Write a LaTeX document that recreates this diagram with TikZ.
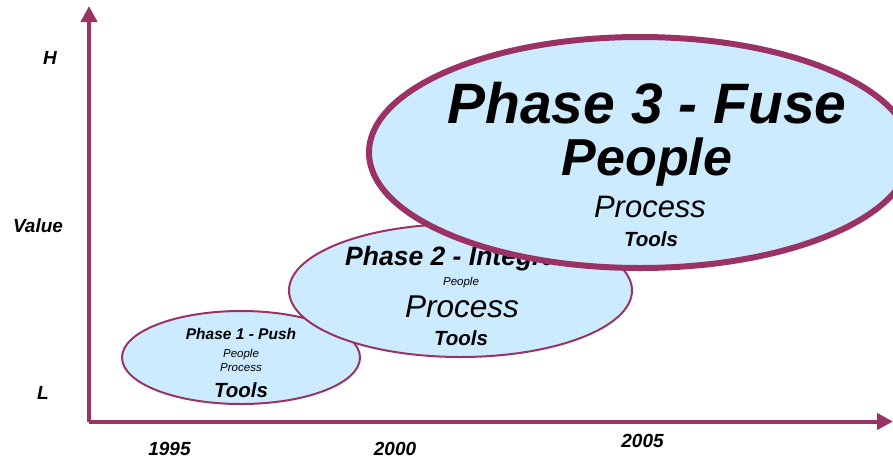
\documentclass[tikz,border=0pt]{standalone}
\usepackage{fontspec}
\setmainfont{Liberation Sans}
\usetikzlibrary{arrows.meta,shapes.geometric}
\definecolor{axiscol}{RGB}{155,50,100}
\definecolor{fillcol}{RGB}{204,235,255}
\newcommand{\fs}[1]{\fontsize{#1}{#1}\selectfont}
\tikzset{
  axis/.style={draw=axiscol,line width=4pt,-{Triangle[length=16pt,width=16pt]}},
  phase/.style={ellipse,draw=axiscol,fill=fillcol,inner sep=0pt},
  lbl/.style={anchor=base,inner sep=0pt,font=\bfseries\itshape},
  txt/.style={anchor=base,inner sep=0pt,font=\itshape}
}
\begin{document}
\begin{tikzpicture}[x=1pt,y=-1pt]
\useasboundingbox (0,0) rectangle (893,461);
\clip (0,0) rectangle (893,461);
% axes
\coordinate (o) at (89,421.5);
\coordinate (ytop) at (89,6);
\coordinate (xend) at (893,421.5);
\draw[axis] (o) -- (ytop);
\draw[axis] (o) -- (xend);
% axis labels
\node[lbl] (h) at (50,64) {\fs{19}H};
\node[lbl] (val) at (38,232) {\fs{19}Value};
\node[lbl] (l) at (43,399) {\fs{19}L};
\node[lbl] (y1995) at (169.5,455) {\fs{19}1995};
\node[lbl] (y2000) at (395,455) {\fs{19}2000};
\node[lbl] (y2005) at (642.5,447) {\fs{19}2005};
% phase 1
\node[phase,line width=2pt,minimum width=238pt,minimum height=93pt] (e1) at (241,357.5) {};
\node[lbl] (p1t) at (241,339) {\fs{15.5}Phase 1 - Push};
\node[txt] (p1a) at (241,357) {\fs{11.5}People};
\node[txt] (p1b) at (241,371.5) {\fs{11.5}Process};
\node[lbl] (p1c) at (241,397) {\fs{20.5}Tools};
% phase 2
\node[phase,line width=2pt,minimum width=343pt,minimum height=133pt] (e2) at (460.5,290.5) {};
\node[lbl,anchor=base west] (p2t) at (345,265) {\fs{26.5}Phase 2 - Integrate};
\node[txt] (p2a) at (461,285) {\fs{11.5}People};
\node[txt] (p2b) at (462,317) {\fs{31.5}Process};
\node[lbl] (p2c) at (461,345) {\fs{20.5}Tools};
% phase 3
\node[phase,line width=6pt,minimum width=542pt,minimum height=231pt] (e3) at (640,152.5) {};
\node[lbl] (p3t) at (647,123) {\fs{57}Phase 3 - Fuse};
\node[lbl] (p3a) at (647,175) {\fs{52}People};
\node[txt] (p3b) at (650,217) {\fs{31}Process};
\node[lbl] (p3c) at (651,246) {\fs{20.5}Tools};
\end{tikzpicture}
\end{document}
